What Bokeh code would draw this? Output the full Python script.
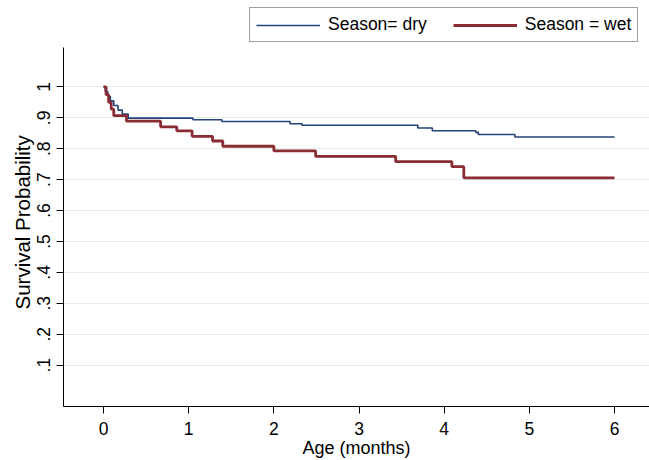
from bokeh.plotting import figure
from bokeh.models import Range1d, FixedTicker, Legend, LegendItem, Title
from bokeh.embed import file_html
from bokeh.resources import INLINE

# Kaplan-Meier step data (time in months, survival probability)
dry_time = [0, 0.02, 0.05, 0.08, 0.12, 0.17, 0.22, 0.29, 1.05, 1.39, 2.19, 2.33, 3.69, 3.86, 4.37, 4.40, 4.83, 6.0]
dry_surv = [1.0, 0.985, 0.97, 0.955, 0.94, 0.925, 0.912, 0.899, 0.894, 0.888, 0.881, 0.876, 0.867, 0.858, 0.853, 0.846, 0.838, 0.838]

wet_time = [0, 0.03, 0.06, 0.09, 0.12, 0.27, 0.67, 0.86, 1.04, 1.28, 1.40, 2.0, 2.49, 3.43, 4.09, 4.23, 6.0]
wet_surv = [1.0, 0.975, 0.95, 0.928, 0.907, 0.889, 0.871, 0.858, 0.840, 0.825, 0.808, 0.793, 0.775, 0.758, 0.742, 0.706, 0.706]

x_ticks = [0, 1, 2, 3, 4, 5, 6]
y_ticks = [0.1, 0.2, 0.3, 0.4, 0.5, 0.6, 0.7, 0.8, 0.9, 1.0]
y_tick_labels = [".1", ".2", ".3", ".4", ".5", ".6", ".7", ".8", ".9", "1"]
series_labels = ["Season= dry", "Season = wet"]
x_label = "Age (months)"
y_label = "Survival Probability"

FONT = "Liberation Sans"
BLUE = "#26437a"
RED = "#8a2c33"

p = figure(width=649, height=460, output_backend="svg", toolbar_location=None,
           x_range=Range1d(-0.47, 6.41), y_range=Range1d(-0.034, 1.2796),
           min_border_left=63, min_border_right=0, min_border_top=0, min_border_bottom=50)
p.outline_line_color = None
p.background_fill_color = "white"
p.border_fill_color = "white"

r_dry = p.step(dry_time, dry_surv, mode="after", line_color=BLUE, line_width=1.6)
r_wet = p.step(wet_time, wet_surv, mode="after", line_color=RED, line_width=2.8)

# axes
p.xaxis.ticker = FixedTicker(ticks=x_ticks)
p.yaxis.ticker = FixedTicker(ticks=y_ticks)
p.yaxis.bounds = (-0.034, 1.126)
p.yaxis.major_label_overrides = {t: l for t, l in zip(y_ticks, y_tick_labels)}
p.yaxis.major_label_orientation = "vertical"
for ax in (p.xaxis[0], p.yaxis[0]):
    ax.axis_line_color = "black"
    ax.axis_line_width = 1
    ax.major_tick_line_color = "black"
    ax.major_tick_in = 0
    ax.major_tick_out = 7
    ax.minor_tick_line_color = None
    ax.major_label_text_font = FONT
    ax.major_label_text_font_size = "17.5px"
    ax.major_label_text_color = "black"
    ax.axis_label_text_font = FONT
    ax.axis_label_text_font_style = "normal"
    ax.axis_label_text_color = "black"

p.xaxis.axis_label = x_label
p.xaxis.axis_label_text_font_size = "18px"
p.xaxis.major_label_standoff = 8
p.xaxis.axis_label_standoff = 0
p.yaxis.major_label_standoff = 6

# y-axis label as a left-side title so it can be placed along the visible axis
ytitle = Title(text=y_label, align="left", offset=97, text_font=FONT,
               text_font_size="20.5px", text_font_style="normal", text_color="black",
               standoff=2)
p.add_layout(ytitle, "left")

p.xgrid.grid_line_color = None
p.ygrid.grid_line_color = "#e4edf0"
p.ygrid.grid_line_width = 1

legend = Legend(items=[LegendItem(label=series_labels[0], renderers=[r_dry]),
                       LegendItem(label=series_labels[1], renderers=[r_wet])],
                orientation="horizontal", location=(186, 364),
                label_text_font=FONT, label_text_font_size="17.5px", label_text_color="black",
                glyph_width=64, glyph_height=18, label_standoff=8, spacing=26,
                padding=6, margin=0, border_line_color="#404040", border_line_width=1,
                background_fill_color="white")
p.add_layout(legend, "center")

open("out.html", "w").write(file_html(p, INLINE))
